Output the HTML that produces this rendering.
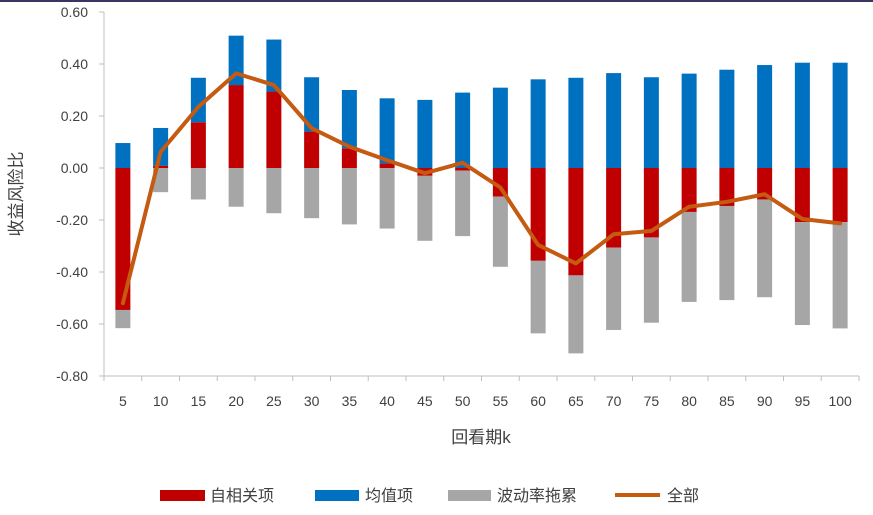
<!DOCTYPE html>
<html><head><meta charset="utf-8"><style>
body{margin:0;background:#fff;}
svg text{font-family:"Liberation Sans","Noto Sans CJK SC",sans-serif;fill:#404040;}
</style></head><body>
<svg id="chart" width="873" height="510" xmlns="http://www.w3.org/2000/svg">
<rect x="0" y="0" width="873" height="2" fill="#3a3560"/>
<g id="bars"></g><g id="axes"></g><g id="line"></g>
<text x="22" y="194" font-size="17" text-anchor="middle" transform="rotate(-90 22 194)">收益风险比</text>
<text x="481" y="443" font-size="17" text-anchor="middle">回看期k</text>
<g>
<rect x="160" y="490" width="45" height="11" fill="#c00000"/>
<text x="210" y="501" font-size="16">自相关项</text>
<rect x="315" y="490" width="44" height="11" fill="#0070c0"/>
<text x="365" y="501" font-size="16">均值项</text>
<rect x="448" y="490" width="43" height="11" fill="#a6a6a6"/>
<text x="497" y="501" font-size="16">波动率拖累</text>
<line x1="615" y1="495" x2="660" y2="495" stroke="#c55a11" stroke-width="4"/>
<text x="667" y="501" font-size="16">全部</text>
</g>
</svg>
<script>
const categories=[5,10,15,20,25,30,35,40,45,50,55,60,65,70,75,80,85,90,95,100];
const autocorr=[-0.546,0.009,0.176,0.319,0.294,0.14,0.076,0.018,-0.03,-0.01,-0.11,-0.357,-0.413,-0.306,-0.267,-0.169,-0.146,-0.121,-0.208,-0.208];
const meanTerm=[0.096,0.145,0.171,0.19,0.2,0.209,0.224,0.25,0.262,0.29,0.309,0.341,0.347,0.365,0.349,0.363,0.378,0.396,0.405,0.405];
const volDrag=[-0.07,-0.093,-0.121,-0.149,-0.174,-0.193,-0.217,-0.233,-0.25,-0.252,-0.27,-0.279,-0.3,-0.317,-0.328,-0.346,-0.362,-0.376,-0.396,-0.409];
const total=[-0.52,0.062,0.235,0.364,0.319,0.153,0.082,0.03,-0.02,0.02,-0.075,-0.296,-0.367,-0.255,-0.242,-0.149,-0.13,-0.101,-0.196,-0.213];
const yTicks=[0.6,0.4,0.2,0,-0.2,-0.4,-0.6,-0.8];
const NS="http://www.w3.org/2000/svg";
const X0=104,X1=859,Y0=12,Y1=376,VMAX=0.6,VMIN=-0.8;
const step=(X1-X0)/categories.length;
const xc=i=>X0+step*(i+0.5);
const y=v=>Y0+(VMAX-v)/(VMAX-VMIN)*(Y1-Y0);
function mk(t,a,p){const e=document.createElementNS(NS,t);for(const k in a)e.setAttribute(k,a[k]);p.appendChild(e);return e;}
const bars=document.getElementById('bars'),axes=document.getElementById('axes'),lineG=document.getElementById('line');
const bw=15;
function seg(i,a,b,col,name){const t=Math.min(y(a),y(b)),h=Math.abs(y(a)-y(b));
 const r=mk('rect',{x:xc(i)-bw/2,y:t,width:bw,height:h,fill:col},bars);
 
 }
categories.forEach((c,i)=>{
 let pos=0,neg=0;
 const a=autocorr[i];
 if(a>=0){seg(i,0,a,'#c00000','bar-autocorr');pos=a;}else{seg(i,0,a,'#c00000','bar-autocorr');neg=a;}
 seg(i,pos,pos+meanTerm[i],'#0070c0','bar-mean');
 seg(i,neg,neg+volDrag[i],'#a6a6a6','bar-vol-drag');
});
mk('line',{x1:X0,y1:Y0,x2:X0,y2:Y1,stroke:'#bfbfbf','stroke-width':1},axes);
mk('line',{x1:X0,y1:Y1,x2:X1,y2:Y1,stroke:'#bfbfbf','stroke-width':1},axes);
yTicks.forEach(v=>{
 mk('line',{x1:X0-5,y1:y(v),x2:X0,y2:y(v),stroke:'#bfbfbf'},axes);
 const t=mk('text',{x:88,y:y(v)+5,'font-size':14,'text-anchor':'end'},axes);
 t.textContent=v.toFixed(2);
 
 
});
for(let i=0;i<=categories.length;i++)mk('line',{x1:X0+step*i,y1:Y1,x2:X0+step*i,y2:Y1+5,stroke:'#bfbfbf'},axes);
categories.forEach((c,i)=>{
 const t=mk('text',{x:xc(i),y:406,'font-size':14,'text-anchor':'middle'},axes);
 t.textContent=c;
 
 
});
const pl=mk('polyline',{points:total.map((v,i)=>xc(i)+','+y(v)).join(' '),fill:'none',stroke:'#c55a11','stroke-width':4,'stroke-linejoin':'round','stroke-linecap':'round'},lineG);


</script>
</body></html>
